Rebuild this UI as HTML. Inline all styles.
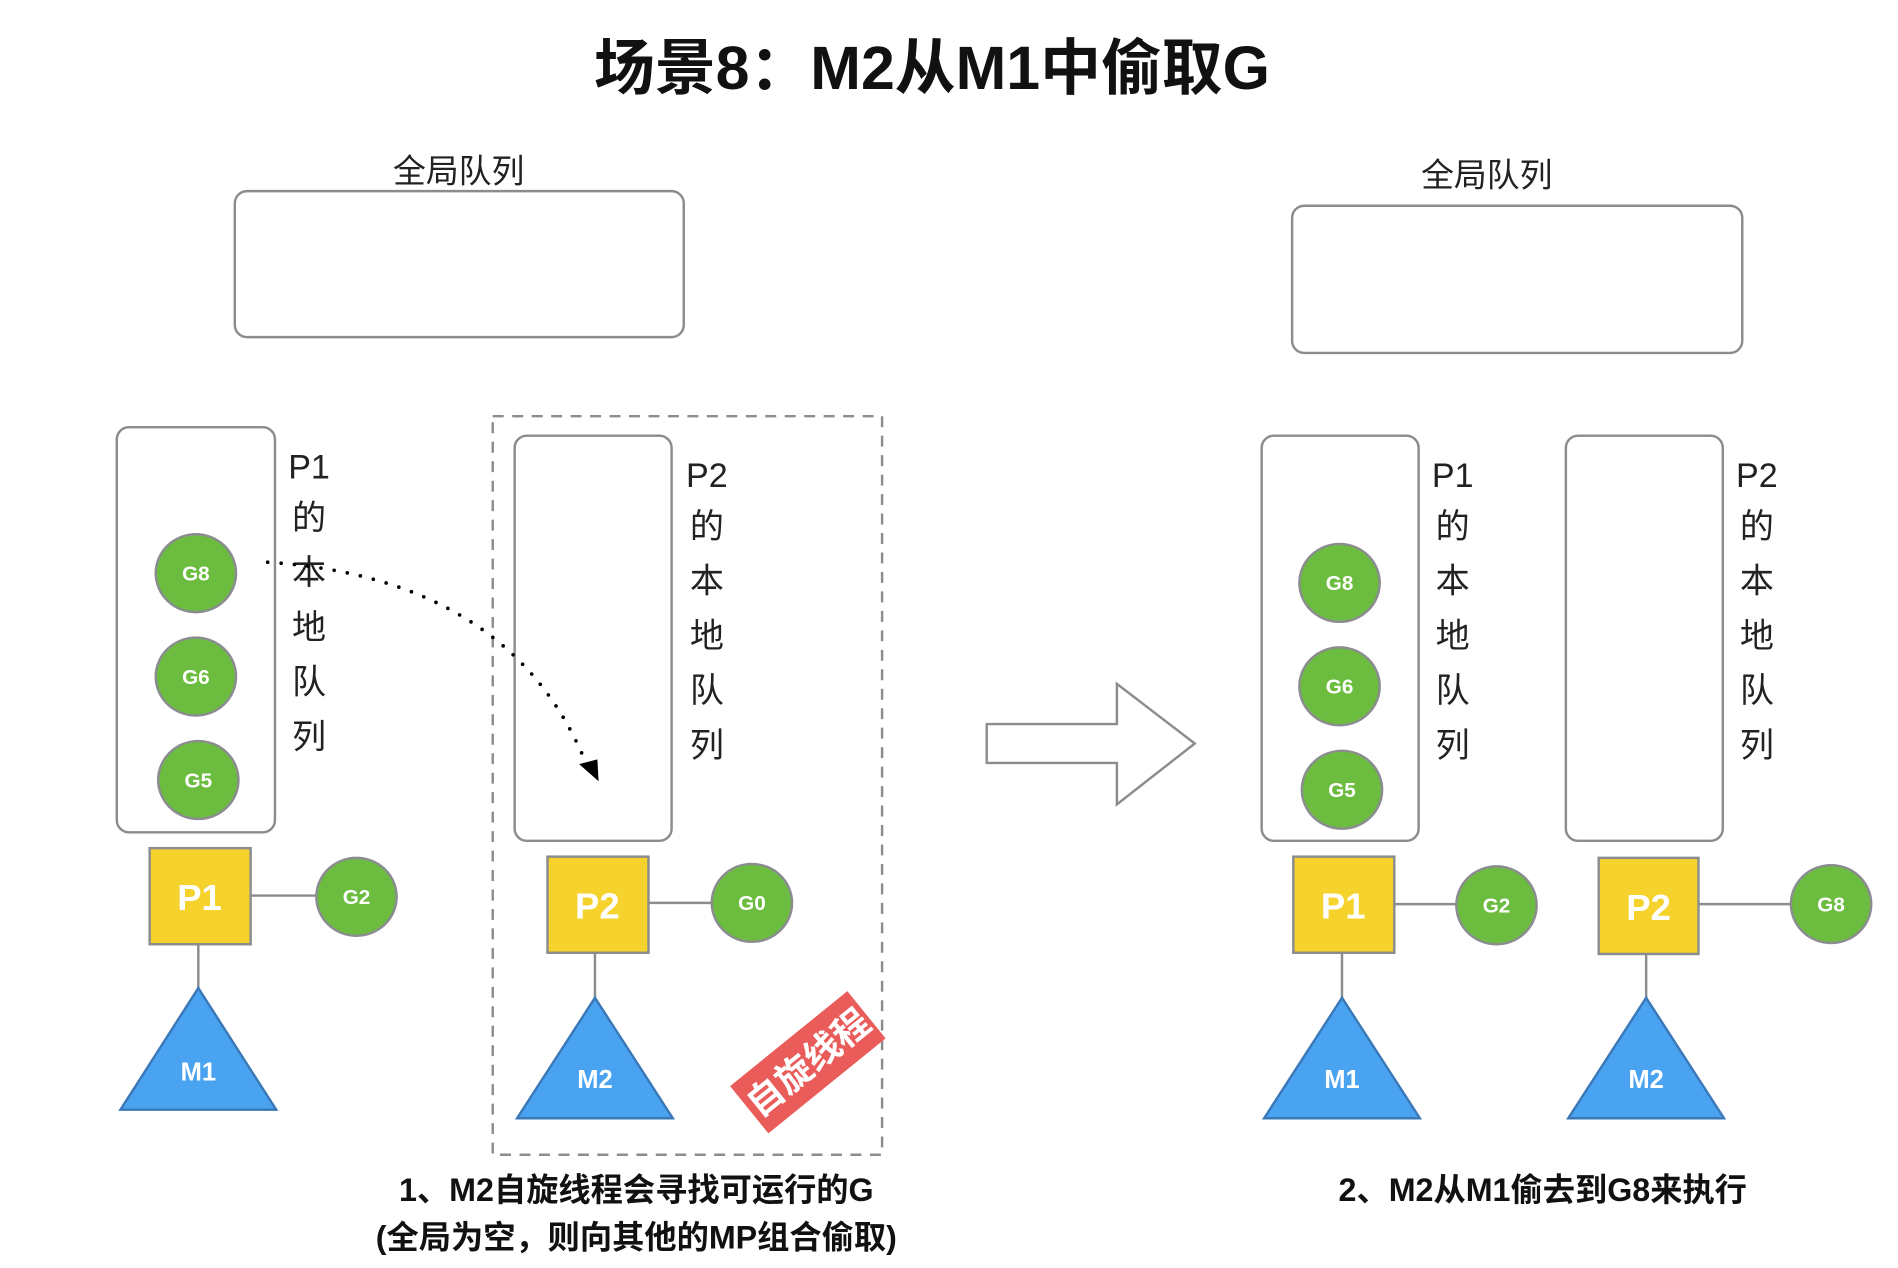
<!DOCTYPE html>
<html><head><meta charset="utf-8"><style>
html,body{margin:0;padding:0;background:#fff;}
svg{display:block;}
text{font-family:"Liberation Sans","Noto Sans CJK SC",sans-serif;}
</style></head><body>
<svg width="1898" height="1268" viewBox="0 0 1560 1042" xmlns="http://www.w3.org/2000/svg">
<text x="766" y="73" text-anchor="middle" font-size="50" font-weight="bold" fill="#111">场景8：M2从M1中偷取G</text>

<text x="377" y="150" text-anchor="middle" font-size="27" fill="#222">全局队列</text>
<rect x="193" y="157" width="369" height="120" rx="10" fill="none" stroke="#8a8c90" stroke-width="2"/>
<text x="1222" y="153" text-anchor="middle" font-size="27" fill="#222">全局队列</text>
<rect x="1062" y="169" width="370" height="121" rx="10" fill="none" stroke="#8a8c90" stroke-width="2"/>

<g stroke="#8a8c90" stroke-width="2" fill="none">
<rect x="96" y="351" width="130" height="333" rx="10"/>
<rect x="423" y="358" width="129" height="333" rx="10"/>
<rect x="1037" y="358" width="129" height="333" rx="10"/>
<rect x="1287" y="358" width="129" height="333" rx="10"/>
<rect x="405" y="342" width="320" height="607" stroke-dasharray="9,7"/>
<line x1="206" y1="736" x2="260" y2="736"/>
<line x1="163" y1="776" x2="163" y2="812"/>
<line x1="533" y1="742" x2="585" y2="742"/>
<line x1="489" y1="783" x2="489" y2="820"/>
<line x1="1146" y1="743" x2="1197" y2="743"/>
<line x1="1103" y1="783" x2="1103" y2="820"/>
<line x1="1396" y1="743" x2="1472" y2="743"/>
<line x1="1353" y1="784" x2="1353" y2="820"/>
</g>

<g font-size="28" fill="#222" text-anchor="middle">
<text x="254" y="393">P1</text><text x="254" y="435">的</text><text x="254" y="480">本</text><text x="254" y="525">地</text><text x="254" y="570">队</text><text x="254" y="615">列</text>
<text x="581" y="400">P2</text><text x="581" y="442">的</text><text x="581" y="487">本</text><text x="581" y="532">地</text><text x="581" y="577">队</text><text x="581" y="622">列</text>
<text x="1194" y="400">P1</text><text x="1194" y="442">的</text><text x="1194" y="487">本</text><text x="1194" y="532">地</text><text x="1194" y="577">队</text><text x="1194" y="622">列</text>
<text x="1444" y="400">P2</text><text x="1444" y="442">的</text><text x="1444" y="487">本</text><text x="1444" y="532">地</text><text x="1444" y="577">队</text><text x="1444" y="622">列</text>
</g>

<g fill="#6cbd3f" stroke="#8a8c90" stroke-width="2">
<ellipse cx="161" cy="471" rx="33" ry="32"/>
<ellipse cx="161" cy="556" rx="33" ry="32"/>
<ellipse cx="163" cy="641" rx="33" ry="32"/>
<ellipse cx="293" cy="737" rx="33" ry="32"/>
<ellipse cx="618" cy="742" rx="33" ry="32"/>
<ellipse cx="1101" cy="479" rx="33" ry="32"/>
<ellipse cx="1101" cy="564" rx="33" ry="32"/>
<ellipse cx="1103" cy="649" rx="33" ry="32"/>
<ellipse cx="1230" cy="744" rx="33" ry="32"/>
<ellipse cx="1505" cy="743" rx="33" ry="32"/>
</g>
<g fill="#fff" font-size="17" font-weight="bold" text-anchor="middle">
<text x="161" y="477">G8</text><text x="161" y="562">G6</text><text x="163" y="647">G5</text>
<text x="293" y="743">G2</text><text x="618" y="748">G0</text>
<text x="1101" y="485">G8</text><text x="1101" y="570">G6</text><text x="1103" y="655">G5</text>
<text x="1230" y="750">G2</text><text x="1505" y="749">G8</text>
</g>

<g fill="#f5d22c" stroke="#8a8c90" stroke-width="2">
<rect x="123" y="697" width="83" height="79"/>
<rect x="450" y="704" width="83" height="79"/>
<rect x="1063" y="704" width="83" height="79"/>
<rect x="1314" y="705" width="82" height="79"/>
</g>
<g fill="#fff" font-size="30" font-weight="bold" text-anchor="middle">
<text x="164" y="748">P1</text><text x="491" y="755">P2</text>
<text x="1104" y="755">P1</text><text x="1355" y="756">P2</text>
</g>

<g fill="#4aa3f0" stroke="#3a78b8" stroke-width="2">
<polygon points="163,812 99,912 227,912"/>
<polygon points="489,820 425,919 553,919"/>
<polygon points="1103,820 1039,919 1167,919"/>
<polygon points="1353,820 1289,919 1417,919"/>
</g>
<g fill="#fff" font-size="21" font-weight="bold" text-anchor="middle">
<text x="163" y="888">M1</text><text x="489" y="894">M2</text>
<text x="1103" y="894">M1</text><text x="1353" y="894">M2</text>
</g>

<path d="M220 462 Q 420 475 482 628" fill="none" stroke="#000" stroke-width="3" stroke-linecap="round" stroke-dasharray="0,11"/>
<polygon points="476,628 491,624 492,642" fill="#000"/>

<g transform="translate(664,873) rotate(-39)">
<rect x="-62" y="-25" width="124" height="50" fill="#e95c5a"/>
<text x="0" y="11" text-anchor="middle" font-size="30" font-weight="bold" fill="#fff">自旋线程</text>
</g>

<polygon points="811,595 918,595 918,562 982,611 918,661 918,627 811,627" fill="#fff" stroke="#8a8c90" stroke-width="2"/>

<g font-size="26.5" font-weight="bold" fill="#111" text-anchor="middle">
<text x="523" y="987">1、M2自旋线程会寻找可运行的G</text>
<text x="523" y="1026">(全局为空，则向其他的MP组合偷取)</text>
<text x="1268" y="987">2、M2从M1偷去到G8来执行</text>
</g>
</svg>
</body></html>
